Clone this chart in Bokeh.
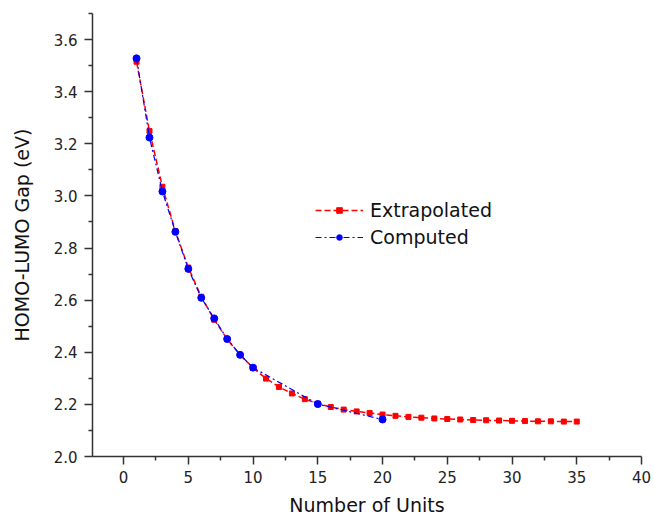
from bokeh.plotting import figure
from bokeh.models import FixedTicker, PrintfTickFormatter, Range1d
from bokeh.embed import file_html
from bokeh.resources import INLINE

# ---- data ----
units_extrap = list(range(1, 36))
gap_extrap = [3.515, 3.249, 3.035, 2.865, 2.725, 2.613, 2.525, 2.450, 2.390, 2.340,
              2.299, 2.267, 2.242, 2.220, 2.203, 2.190, 2.180, 2.173, 2.167, 2.161,
              2.156, 2.152, 2.149, 2.146, 2.144, 2.142, 2.140, 2.139, 2.138, 2.137,
              2.136, 2.135, 2.135, 2.134, 2.134]

units_comp = [1, 2, 3, 4, 5, 6, 7, 8, 9, 10, 15, 20]
gap_comp = [3.528, 3.224, 3.017, 2.862, 2.720, 2.609, 2.530, 2.451, 2.390, 2.341, 2.201, 2.142]

x_major = [0, 5, 10, 15, 20, 25, 30, 35, 40]
x_minor = [2.5, 7.5, 12.5, 17.5, 22.5, 27.5, 32.5, 37.5]
y_major = [2.0, 2.2, 2.4, 2.6, 2.8, 3.0, 3.2, 3.4, 3.6]
y_minor = [2.1, 2.3, 2.5, 2.7, 2.9, 3.1, 3.3, 3.5, 3.7]

FONT = "DejaVu Sans"
AXIS_COL = "#333333"

p = figure(width=654, height=518, output_backend="svg", toolbar_location=None,
           x_range=Range1d(-2.4, 40), y_range=Range1d(2.0, 3.7),
           min_border_left=92, min_border_right=13, min_border_top=13, min_border_bottom=61)
p.outline_line_color = None
p.xgrid.visible = False
p.ygrid.visible = False
p.background_fill_color = "white"
p.border_fill_color = "white"

p.line(units_extrap, gap_extrap, line_color="#ff0000", line_width=1.5,
       line_dash="6 3", legend_label="Extrapolated")
p.scatter(units_extrap, gap_extrap, marker="square", size=5, fill_color="#ff0000",
          line_color="#ff0000", legend_label="Extrapolated")

p.line(units_comp, gap_comp, line_color="#0000ff", line_width=1.2,
       line_dash="6 3 2 3", legend_label="Computed")
p.scatter(units_comp, gap_comp, marker="circle", size=7, fill_color="#0000ff",
          line_color="#0000ff", legend_label="Computed")

for ax, major, minor in ((p.xaxis[0], x_major, x_minor), (p.yaxis[0], y_major, y_minor)):
    ax.ticker = FixedTicker(ticks=major, minor_ticks=minor)
    ax.axis_line_color = AXIS_COL
    ax.axis_line_width = 1.5
    ax.major_tick_line_color = AXIS_COL
    ax.minor_tick_line_color = AXIS_COL
    ax.major_tick_line_width = 1.5
    ax.minor_tick_line_width = 1.5
    ax.major_tick_in = 0
    ax.major_tick_out = 8
    ax.minor_tick_in = 0
    ax.minor_tick_out = 4
    ax.major_label_text_font = FONT
    ax.major_label_text_font_size = "15px"
    ax.major_label_text_color = "#222222"
    ax.axis_label_text_font = FONT
    ax.axis_label_text_font_size = "19px"
    ax.axis_label_text_font_style = "normal"
    ax.axis_label_text_color = "#111111"

p.xaxis[0].axis_label = "Number of Units"
p.xaxis[0].major_label_standoff = 6
p.xaxis[0].axis_label_standoff = 8
p.yaxis[0].axis_label = "HOMO-LUMO Gap (eV)"
p.yaxis[0].formatter = PrintfTickFormatter(format="%.1f")
p.yaxis[0].major_label_standoff = 7
p.yaxis[0].axis_label_standoff = 18

lg = p.legend[0]
lg.location = (223, 206)
lg.border_line_color = None
lg.background_fill_alpha = 0
lg.padding = 0
lg.margin = 0
lg.spacing = 0
lg.glyph_width = 48
lg.glyph_height = 14
lg.label_height = 27
lg.label_standoff = 7
lg.label_text_font = FONT
lg.label_text_font_size = "19px"
lg.label_text_color = "#111111"

open("out.html", "w").write(file_html(p, INLINE))
